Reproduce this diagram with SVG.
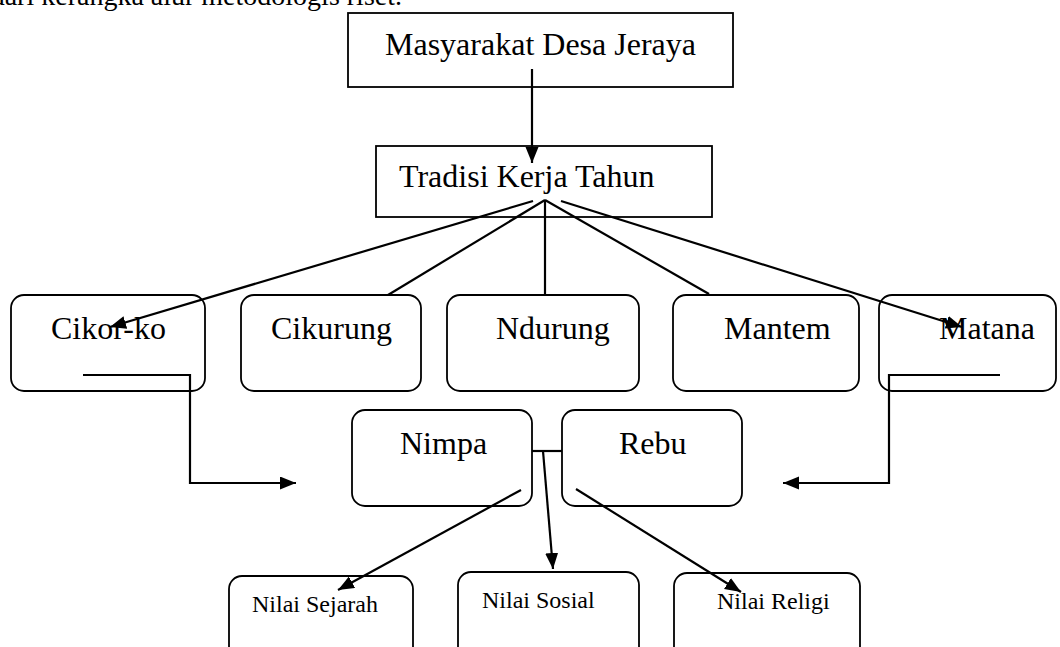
<svg xmlns="http://www.w3.org/2000/svg" width="1060" height="647" viewBox="0 0 1060 647">
<style>
text{font-family:"Liberation Serif","Times New Roman",serif;fill:#000}
.big{font-size:32px}
.small{font-size:24px}
.box{fill:#fff;stroke:#000;stroke-width:1.8}
.ln{fill:none;stroke:#000;stroke-width:2.2}
.arr{marker-end:url(#ah)}
</style>
<defs>
<marker id="ah" markerUnits="userSpaceOnUse" markerWidth="17" markerHeight="14" refX="16" refY="6.5" orient="auto">
<path d="M0,0 L16,6.5 L0,13 z" fill="#000"/>
</marker>
</defs>
<rect width="1060" height="647" fill="#fff"/>
<text x="402" y="5" font-size="28" text-anchor="end">dari kerangka alur metodologis riset.</text>
<g id="n-masyarakat"><rect class="box" x="348" y="13" width="385" height="74"/><text class="big" x="385" y="55">Masyarakat Desa Jeraya</text></g>
<g id="n-tradisi"><rect class="box" x="376" y="146" width="336" height="71"/><text class="big" x="399" y="187">Tradisi Kerja Tahun</text></g>
<g id="n-cikorko"><rect class="box" x="11" y="295" width="194" height="96" rx="13"/><text class="big" x="51" y="339">Cikor-ko</text></g>
<g id="n-cikurung"><rect class="box" x="241" y="295" width="180" height="96" rx="13"/><text class="big" x="271" y="339">Cikurung</text></g>
<g id="n-ndurung"><rect class="box" x="447" y="295" width="192" height="96" rx="13"/><text class="big" x="496" y="339">Ndurung</text></g>
<g id="n-mantem"><rect class="box" x="673" y="295" width="186" height="96" rx="13"/><text class="big" x="724" y="339">Mantem</text></g>
<g id="n-matana"><rect class="box" x="879" y="295" width="177" height="96" rx="13"/><text class="big" x="939" y="339">Matana</text></g>
<g id="n-nimpa"><rect class="box" x="352" y="410" width="180" height="96" rx="13"/><text class="big" x="400" y="454">Nimpa</text></g>
<g id="n-rebu"><rect class="box" x="562" y="410" width="180" height="96" rx="13"/><text class="big" x="619" y="454">Rebu</text></g>
<g id="n-sejarah"><rect class="box" x="229" y="576" width="184" height="90" rx="13"/><text class="small" x="252" y="612">Nilai Sejarah</text></g>
<g id="n-sosial"><rect class="box" x="458" y="572" width="181" height="90" rx="13"/><text class="small" x="482" y="608">Nilai Sosial</text></g>
<g id="n-religi"><rect class="box" x="674" y="573" width="186" height="90" rx="13"/><text class="small" x="717" y="609">Nilai Religi</text></g>
<g id="connectors">
<line class="ln arr" x1="532" y1="69" x2="532" y2="163"/>
<line class="ln arr" x1="533" y1="201" x2="110" y2="327"/>
<line class="ln" x1="545" y1="200" x2="388" y2="295"/>
<line class="ln" x1="545" y1="200" x2="545" y2="294"/>
<line class="ln" x1="545" y1="200" x2="709" y2="294"/>
<line class="ln arr" x1="561" y1="201" x2="962" y2="327"/>
<polyline class="ln arr" points="83,375 190,375 190,483 296,483"/>
<polyline class="ln arr" points="1000,375 889,375 889,483 783,483"/>
<line class="ln" x1="532" y1="451" x2="562" y2="451" stroke-width="1.5"/>
<line class="ln arr" x1="543" y1="451" x2="553" y2="569"/>
<line class="ln arr" x1="521" y1="490" x2="338" y2="590"/>
<line class="ln arr" x1="576" y1="489" x2="741" y2="592"/>
</g>
</svg>
